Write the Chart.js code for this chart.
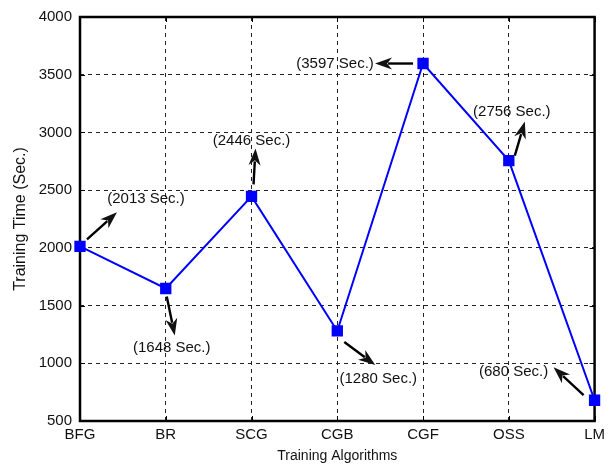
<!DOCTYPE html>
<html>
<head>
<meta charset="utf-8">
<script src="https://cdn.jsdelivr.net/npm/chart.js@4"></script>
<style>
  html, body { margin: 0; padding: 0; background: #fff; }
  #wrap { width: 610px; height: 468px; }
</style>
</head>
<body>
<div id="wrap"><canvas id="chart" width="610" height="468"></canvas></div>
<script>
// Training time per algorithm
const algorithms = ['BFG', 'BR', 'SCG', 'CGB', 'CGF', 'OSS', 'LM'];
const trainingTimes = [2013, 1648, 2446, 1280, 3597, 2756, 680];
const yMin = 500, yMax = 4000, yStep = 500;

// callout layout: arrow tail/head and label centre, as pixel offsets from each point
const callouts = [
  { tail: [7, -7],   head: [37, -34], text: [66, -47] },
  { tail: [1, 8],    head: [9, 47],   text: [6, 59] },
  { tail: [2, -12],  head: [4, -48],  text: [0, -56] },
  { tail: [7, 11],   head: [38, 34],  text: [41, 48] },
  { tail: [-10, 0],  head: [-48, 0],  text: [-88, 0] },
  { tail: [6, -5],   head: [16, -39], text: [3, -49] },
  { tail: [-11, -5], head: [-41, -33], text: [-81, -28] }
];

const FONT = '"Liberation Sans", Arial, Helvetica, sans-serif';

function arrow(ctx, x1, y1, x2, y2){
  const ang = Math.atan2(y2 - y1, x2 - x1);
  const cos = Math.cos(ang), sin = Math.sin(ang);
  const len = 17, half = 6;
  const bx = x2 - len * cos, by = y2 - len * sin;
  ctx.beginPath();
  ctx.moveTo(x1, y1); ctx.lineTo(bx + 4 * cos, by + 4 * sin);
  ctx.stroke();
  ctx.beginPath();
  ctx.moveTo(x2, y2);
  ctx.lineTo(bx - half * sin, by + half * cos);
  ctx.lineTo(bx + 5 * cos, by + 5 * sin);
  ctx.lineTo(bx + half * sin, by - half * cos);
  ctx.closePath();
  ctx.fill();
}

// box round the plot plus short inward tick marks on all four sides
const frame = {
  id: 'frame',
  beforeDatasetsDraw(chart){
    const {ctx, chartArea: a, scales: {x, y}} = chart;
    ctx.save();
    ctx.strokeStyle = '#000';
    ctx.lineWidth = 1;
    const t = 5;
    ctx.beginPath();
    x.ticks.forEach((_, i) => {
      const px = Math.round(x.getPixelForTick(i)) + 0.5;
      ctx.moveTo(px, a.bottom); ctx.lineTo(px, a.bottom - t);
      ctx.moveTo(px, a.top); ctx.lineTo(px, a.top + t);
    });
    y.ticks.forEach((_, i) => {
      const py = Math.round(y.getPixelForTick(i)) + 0.5;
      ctx.moveTo(a.left, py); ctx.lineTo(a.left + t, py);
      ctx.moveTo(a.right, py); ctx.lineTo(a.right - t, py);
    });
    ctx.stroke();
    ctx.lineWidth = 2.5;
    ctx.strokeRect(a.left, a.top, a.right - a.left, a.bottom - a.top);
    ctx.restore();
  }
};

// arrows and "(n Sec.)" labels next to each marker
const notes = {
  id: 'notes',
  afterDatasetsDraw(chart){
    const ctx = chart.ctx;
    const pts = chart.getDatasetMeta(0).data;
    ctx.save();
    ctx.strokeStyle = '#000';
    ctx.fillStyle = '#111';
    ctx.lineWidth = 2.4;
    ctx.font = '15px ' + FONT;
    ctx.textAlign = 'center';
    ctx.textBaseline = 'middle';
    pts.forEach((p, i) => {
      const c = callouts[i];
      arrow(ctx, p.x + c.tail[0], p.y + c.tail[1], p.x + c.head[0], p.y + c.head[1]);
      ctx.fillText('(' + trainingTimes[i] + ' Sec.)', p.x + c.text[0], p.y + c.text[1]);
    });
    ctx.restore();
  }
};

new Chart(document.getElementById('chart'), {
  type: 'line',
  data: {
    labels: algorithms,
    datasets: [{
      data: trainingTimes,
      borderColor: '#0000ff',
      backgroundColor: '#0000ff',
      borderWidth: 2,
      pointStyle: 'rect',
      pointRadius: 8,
      pointBorderWidth: 0,
      tension: 0
    }]
  },
  options: {
    responsive: false,
    animation: false,
    layout: { padding: { top: 15, right: 14, left: 0, bottom: 0 } },
    plugins: { legend: { display: false }, tooltip: { enabled: false } },
    scales: {
      x: {
        offset: false,
        grid: { color: '#222', lineWidth: 1, drawTicks: false },
        border: { display: false, dash: [4, 4] },
        ticks: { color: '#111', padding: 5, maxRotation: 0, font: { family: FONT, size: 15 } },
        title: { display: true, text: 'Training Algorithms', color: '#111',
                 padding: { top: 0, bottom: 3 }, font: { family: FONT, size: 14 } },
        afterFit(s){ s.height = 47; }
      },
      y: {
        min: yMin, max: yMax,
        grid: { color: '#222', lineWidth: 1, drawTicks: false },
        border: { display: false, dash: [4, 4] },
        ticks: { stepSize: yStep, color: '#111', padding: 8, font: { family: FONT, size: 15 },
                 callback: v => String(v) },
        title: { display: true, text: 'Training Time (Sec.)', color: '#111',
                 padding: { top: 11, bottom: 0 }, font: { family: FONT, size: 16 } },
        afterFit(s){ s.width = 80; }
      }
    }
  },
  plugins: [frame, notes]
});
</script>
</body>
</html>
